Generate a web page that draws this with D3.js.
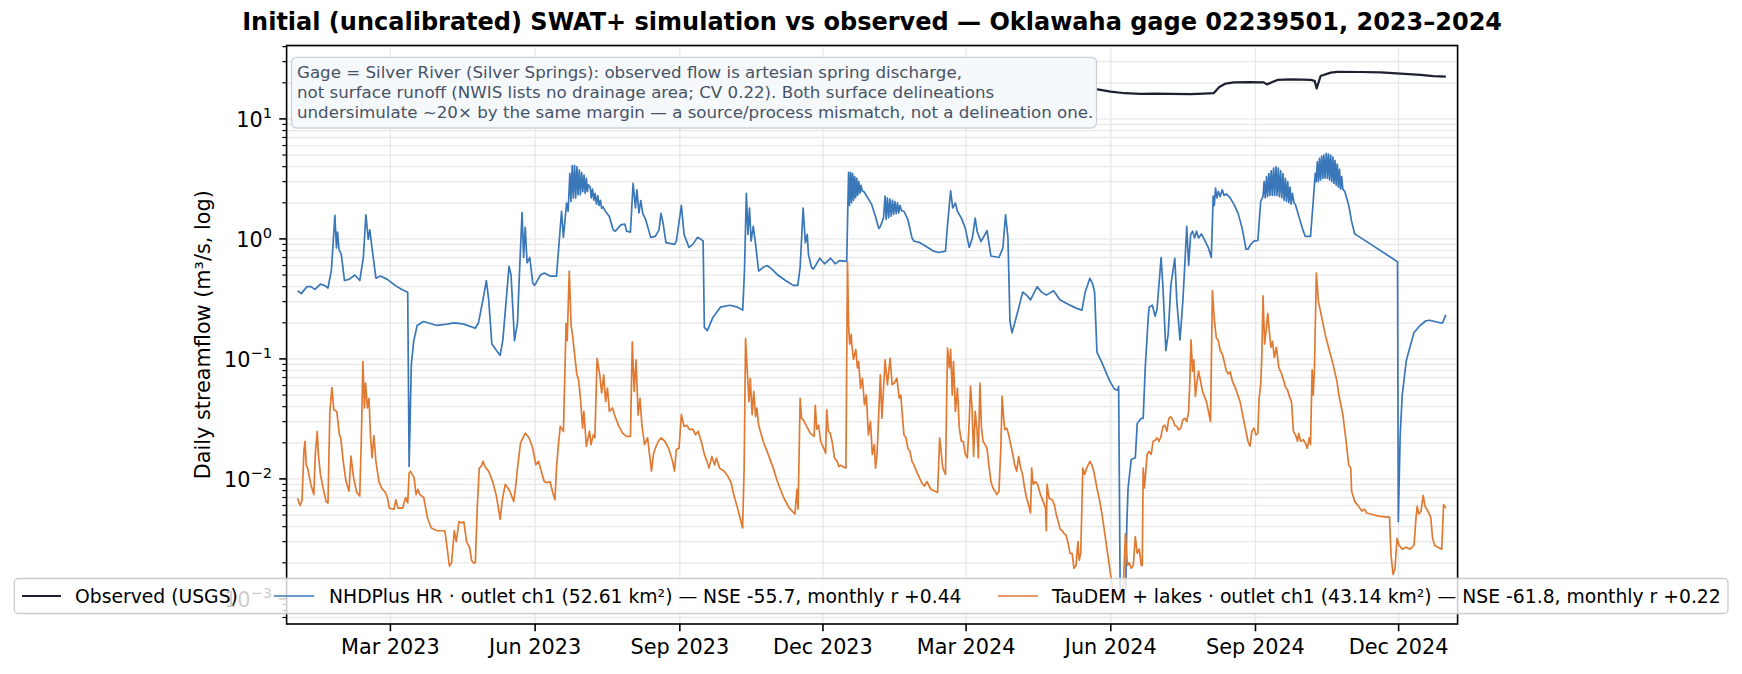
<!DOCTYPE html>
<html lang="en">
<head>
<meta charset="UTF-8">
<title>SWAT+ simulation vs observed</title>
<script src="https://d3js.org/d3.v7.min.js"></script>
<style>
body{margin:0;background:#fff;}
svg{display:block;font-family:"DejaVu Sans",sans-serif;}
.grid line{stroke:#e8e8e8;stroke-width:1.3px;}
.spine{fill:none;stroke:#000;stroke-width:1.6px;}
.tick{stroke:#000;stroke-width:1.6px;}
.minor{stroke:#000;stroke-width:1.2px;}
.ticklabel{font-size:20.8px;fill:#000;}
.title{font-size:24px;font-weight:bold;text-anchor:middle;}
.note{font-size:16.67px;fill:#465265;}
.legend{font-size:18.75px;fill:#000;}
</style>
</head>
<body>
<svg id="figure" width="1742" height="674"></svg>
<script>
// days are counted from 2023-01-01
const START = Date.UTC(2023, 0, 1)

let x_days = [-7, 737.5]
let x_ticks = ["2023-03-01","2023-06-01","2023-09-01","2023-12-01","2024-03-01","2024-06-01","2024-09-01","2024-12-01"]
let y_major = [1e-3, 1e-2, 1e-1, 1, 10]
let y_major_exp = ["−3", "−2", "−1", "0", "1"]
let y_limits = [6.18e-4, 40.9]

let series_names = [
    "Observed (USGS)",
    "NHDPlus HR · outlet ch1 (52.61 km²) — NSE -55.7, monthly r +0.44",
    "TauDEM + lakes · outlet ch1 (43.14 km²) — NSE -61.8, monthly r +0.22"
]
let series_colors = ["#1b2130", "#3a77b8", "#e07a33"]

let title_text = "Initial (uncalibrated) SWAT+ simulation vs observed — Oklawaha gage 02239501, 2023–2024"
let y_label = "Daily streamflow (m³/s, log)"
let note_lines = [
    "Gage = Silver River (Silver Springs): observed flow is artesian spring discharge,",
    "not surface runoff (NWIS lists no drainage area; CV 0.22). Both surface delineations",
    "undersimulate ~20× by the same margin — a source/process mismatch, not a delineation one."
]

// observed, [day, m3/s]
let observed = [[480,18.04],[495,17.84],[505,17.74],[508.6,17.64],[516.9,16.86],[526,16.37],[536,16.17],[545,16.27],
    [555,16.17],[567.7,16.07],[576,16.27],[582.4,16.37],[586,18.43],[590,19.70],[595.3,20.18],[605,20.27],[614.2,20.18],
    [616.3,19.40],[622.9,21.14],[631.3,21.34],[638,21.24],[644,21.14],[646.6,20.75],[647.9,17.94],[650.4,22.79],
    [656.8,24.31],[661.2,24.70],[675.8,24.60],[688.6,24.42],[701.3,23.84],[714,23.26],[722,22.69],[730,22.50]]

// NHDPlus HR outlet, [day, m3/s]
let nhd = [[0,0.37],[2.3,0.35],[6,0.40],[8.5,0.40],[11,0.38],[14.5,0.42],[17,0.41],[19.3,0.39],[21.5,0.55],[23.7,1.57],
    [24.7,0.84],[25.4,1.14],[26.3,0.82],[27.8,0.74],[29.8,0.45],[32.7,0.46],[36.4,0.50],[39.5,0.45],[41.8,0.7],[43.4,1.59],
    [44.9,0.99],[45.9,1.19],[47.3,0.84],[49.8,0.47],[52.7,0.49],[57,0.46],[62,0.41],[66,0.38],[70,0.36],[70.9,0.0127],
    [71.5,0.03],[72.3,0.09],[73.8,0.14],[76,0.19],[80,0.205],[88.7,0.19],[95,0.195],[99.6,0.20],[105.7,0.195],[113,0.18],
    [115,0.20],[118,0.32],[120,0.45],[121.5,0.31],[123.5,0.133],[128.8,0.107],[130.5,0.144],[134.4,0.59],[135.7,0.50],
    [137.9,0.142],[139.8,0.2],[141,0.5],[142.7,1.66],[143.7,0.70],[144.7,1.25],[145.9,0.63],[147.6,0.70],[149.5,0.43],
    [150.7,0.41],[154.4,0.50],[156.8,0.52],[160.5,0.49],[164.6,0.49],[167.8,1.70],[169,1.03],[171,1.99],[172,1.70],
    [173.1,3.52],[173.8,2.05],[174.6,4.08],[175.3,2.19],[176.1,4.08],[176.8,2.19],[177.6,4.0],[178.3,2.33],[179.1,3.76],
    [179.8,2.33],[180.6,3.58],[181.3,2.48],[182.1,3.41],[182.8,2.4],[183.6,3.2],[184.2,2.48],[184.8,2.82],[186,2.7],
    [186.7,2.2],[187.5,2.6],[188.3,2.1],[189.1,2.4],[190,1.95],[190.8,2.3],[191.6,1.9],[192.5,2.1],[193.3,1.8],[194.2,1.85],
    [195.8,1.69],[198.2,1.54],[200.6,1.19],[201.9,1.16],[203.5,1.22],[205.5,1.31],[208,1.33],[209.2,1.16],[211.6,1.14],
    [213.3,2.91],[214.8,1.81],[215.7,2.56],[217,1.65],[218.2,2.09],[219.4,1.63],[221.3,1.45],[224.5,1.03],[227.4,1.05],
    [229.8,1.19],[231,1.63],[232.3,1.37],[234.2,0.93],[239.6,0.90],[240.8,0.96],[244,1.90],[245.7,1.09],[248.8,0.85],
    [251.3,0.90],[254.2,1.03],[256.1,1.0],[257.8,0.96],[258.6,0.183],[260.5,0.172],[263.9,0.22],[268.8,0.27],[274.9,0.28],
    [279.7,0.27],[283,0.255],[284.1,0.54],[285.3,2.40],[286.3,1.09],[287.3,1.81],[288.3,0.96],[289.7,1.27],[291.2,0.90],
    [293.1,0.54],[296,0.58],[298.5,0.60],[301.6,0.56],[305.3,0.50],[310.2,0.45],[315.1,0.41],[318,0.41],[319.5,0.58],
    [321.4,1.81],[322.8,0.93],[324,1.09],[324.8,0.74],[326.7,0.58],[327.9,0.56],[332,0.69],[335,0.62],[338.9,0.69],
    [341.8,0.62],[344.7,0.66],[349.1,0.65],[350.3,3.59],[350.9,1.9],[351.6,3.59],[352.2,2.0],[352.9,3.5],[353.5,2.1],
    [354.2,3.3],[354.8,2.2],[355.5,3.2],[356.1,2.3],[356.8,3.0],[357.5,2.4],[358.2,2.8],[359,2.5],[360,2.48],[362.5,2.2],
    [365,1.93],[367.4,1.54],[369.5,1.22],[370.5,1.27],[372.5,1.49],[373.5,2.27],[374.2,1.45],[375,2.2],[375.8,1.5],
    [376.6,2.15],[377.4,1.55],[378.2,2.1],[379,1.6],[379.8,2.05],[380.6,1.62],[381.4,2.0],[382.2,1.65],[383,1.9],[384,1.72],
    [385.5,1.70],[388,1.45],[390.6,1.02],[391.8,0.96],[395.6,0.93],[399.4,0.87],[404.4,0.79],[407.7,0.77],[411.9,0.79],
    [413.2,1.31],[415.2,2.51],[416.5,1.81],[418.2,1.99],[419.5,1.70],[422,1.49],[424.5,1.23],[427,0.85],[429,1.02],
    [430.8,1.49],[432,1.16],[434.5,0.95],[438.3,1.17],[440.8,0.72],[445.9,0.70],[448.4,0.84],[450.1,1.59],[451.6,1.03],
    [452.9,0.206],[454.2,0.165],[457.2,0.23],[461,0.36],[463.5,0.34],[466,0.31],[470.2,0.40],[473,0.36],[476,0.34],
    [480.6,0.37],[484.8,0.31],[489.9,0.286],[494.9,0.265],[498.7,0.255],[500.7,0.36],[503.7,0.47],[505.5,0.42],[506.7,0.36],
    [508.2,0.114],[511.2,0.094],[516.2,0.066],[519.3,0.056],[521.5,0.055],[522,0.059],[523,0.00102],[526.5,0.0012],
    [527.2,0.0042],[528,0.0084],[530,0.0145],[532.6,0.015],[533.8,0.029],[536.4,0.032],[537.6,0.032],[538.9,0.084],
    [540.9,0.23],[541.4,0.27],[543.4,0.28],[545.2,0.227],[546.4,0.26],[549,0.70],[550.2,0.39],[552,0.117],[553.5,0.161],
    [555.2,0.41],[557.7,0.69],[559,0.30],[561,0.144],[562.8,0.30],[564,0.59],[565.3,1.27],[566.5,0.60],[567.8,1.09],
    [569,1.16],[570.3,1.02],[571.5,1.16],[572.8,1.02],[574.6,1.10],[576.6,0.98],[579.1,0.84],[580.9,0.70],[582.1,2.27],
    [582.8,1.9],[583.6,2.65],[584.5,2.2],[585.4,2.49],[586.5,2.25],[587.9,2.57],[589,2.3],[590.4,2.37],[592.9,2.20],
    [595.4,1.93],[597.9,1.64],[600.5,1.23],[603,0.82],[604.2,0.82],[606,0.9],[608,0.96],[610.5,0.97],[612.3,2.05],
    [613.8,2.27],[614.5,3.0],[615.2,2.2],[616,3.3],[616.7,2.25],[617.5,3.5],[618.2,2.3],[619,3.7],[619.7,2.3],[620.5,3.9],
    [621.2,2.3],[622,4.0],[622.7,2.3],[623.5,3.9],[624.2,2.25],[625,3.7],[625.7,2.2],[626.5,3.5],[627.2,2.1],[628,3.2],
    [628.7,2.05],[629.5,3.0],[630.2,2.0],[631,2.7],[631.7,1.95],[632.5,2.4],[633.5,2.0],[634.4,1.93],[636.9,1.49],
    [639.4,1.16],[640.7,1.05],[644,1.05],[645.7,2.05],[647,3.52],[647.6,3.0],[648.3,4.4],[649,3.0],[649.7,4.7],[650.4,3.1],
    [651.1,4.9],[651.8,3.2],[652.5,5.0],[653.2,3.2],[654,5.16],[654.7,3.2],[655.4,5.1],[656.1,3.1],[656.8,5.0],[657.5,3.0],
    [658.2,4.8],[658.9,2.9],[659.6,4.5],[660.3,2.8],[661,4.2],[661.7,2.7],[662.4,3.8],[663.1,2.6],[663.8,3.3],[664.5,2.6],
    [665.8,2.48],[668.3,1.90],[670.1,1.40],[672.1,1.10],[674.6,1.05],[699.3,0.645],[699.8,0.0044],[701,0.0233],[702.3,0.05],
    [704.8,0.095],[706,0.11],[709.8,0.166],[713.6,0.19],[717.4,0.208],[719.9,0.21],[726.2,0.20],[728,0.20],[730,0.233]]

// TauDEM + lakes outlet, [day, m3/s]
let taudem = [[0,0.0069],[1.6,0.0060],[2.8,0.0066],[4,0.017],[4.7,0.0206],[5.5,0.0131],[6.4,0.0123],[8.4,0.0090],
    [10.3,0.0074],[11.3,0.0164],[12.5,0.0249],[13.2,0.016],[14.5,0.0109],[16.2,0.0084],[18.1,0.0065],[19.3,0.0063],
    [20.5,0.0365],[21.8,0.0578],[23,0.0377],[24.9,0.0365],[26.6,0.0233],[27.4,0.022],[29,0.014],[30.8,0.0095],[32.7,0.0079],
    [33.9,0.0155],[35.6,0.0102],[37.6,0.0077],[39.5,0.0072],[40.5,0.021],[41.5,0.095],[42.5,0.039],[43.2,0.063],[44.4,0.039],
    [45.4,0.047],[46.3,0.023],[47.3,0.015],[48.5,0.023],[49.8,0.014],[51.7,0.0095],[53.4,0.0084],[55.8,0.0077],[57.1,0.0070],
    [58.3,0.0057],[61.4,0.0056],[62.4,0.0067],[63.9,0.0057],[66.8,0.0057],[68.7,0.0070],[70,0.0063],[70.9,0.0112],
    [71.7,0.0116],[74.1,0.0102],[75.3,0.0074],[76.5,0.0082],[77.7,0.0074],[80.2,0.0070],[82.6,0.0047],[85,0.0039],
    [88.7,0.0037],[93.6,0.0037],[94.8,0.00284],[96.5,0.00188],[97.9,0.0020],[99.6,0.0037],[100.9,0.0030],[102.6,0.0044],
    [104.5,0.0043],[105.7,0.0044],[107.4,0.0030],[109.4,0.00267],[110.6,0.0021],[111.8,0.0020],[113,0.0020],[114.2,0.0057],
    [115.5,0.0123],[116.7,0.0127],[117.9,0.014],[119.1,0.0127],[121.5,0.0116],[124,0.0095],[126.4,0.0072],[128.8,0.0046],
    [130,0.0065],[132,0.0090],[133.7,0.0084],[134.9,0.0079],[137.4,0.0065],[138.8,0.0090],[139.8,0.0123],[141.7,0.0199],
    [144.7,0.0241],[147.1,0.022],[149.5,0.018],[151.5,0.0131],[153.2,0.014],[154.9,0.0116],[156.8,0.0095],[158.8,0.0093],
    [160.5,0.0095],[162.2,0.0077],[163.6,0.0067],[164.6,0.0123],[165.8,0.0193],[167,0.0274],[169,0.0249],[170.7,0.198],
    [171.4,0.142],[172.7,0.54],[173.9,0.19],[175,0.15],[176.3,0.103],[177.5,0.075],[178.7,0.066],[180,0.044],[181.2,0.0265],
    [182,0.0365],[183.6,0.0187],[185.6,0.025],[186.5,0.0193],[188,0.0233],[189,0.022],[190.4,0.101],[192.1,0.0736],
    [193.3,0.052],[194.6,0.0736],[195.8,0.044],[197,0.057],[198.2,0.0365],[200.2,0.039],[201.9,0.033],[204.3,0.0274],
    [206.7,0.024],[209.2,0.0226],[211.6,0.0226],[212.8,0.139],[214,0.0536],[215.2,0.098],[216.5,0.034],[217.7,0.047],
    [218.9,0.028],[220.6,0.0193],[222.5,0.022],[225,0.0116],[226.2,0.016],[227.4,0.018],[229.4,0.0206],[231.1,0.022],
    [233.5,0.0206],[235.9,0.018],[238.4,0.014],[239.6,0.0116],[240.8,0.0176],[242.5,0.018],[244,0.0343],[245.7,0.0274],
    [247.4,0.028],[249.3,0.0257],[251.3,0.026],[253,0.0233],[254.7,0.025],[256.6,0.0206],[258.6,0.016],[260.3,0.014],
    [261.5,0.0123],[263.4,0.0154],[265.1,0.0131],[266.3,0.0149],[268.3,0.0123],[271.2,0.0116],[273.6,0.0105],[275.6,0.0093],
    [277.3,0.0074],[279.7,0.0057],[282.9,0.0039],[283.9,0.0123],[284.8,0.148],[285.8,0.0836],[287,0.044],[287.8,0.069],
    [289,0.0343],[290,0.0536],[291.2,0.033],[292,0.039],[293.1,0.028],[296,0.0206],[299.2,0.016],[302.4,0.0123],
    [305.3,0.0093],[309,0.0070],[312.6,0.0057],[316.2,0.0051],[317.5,0.0082],[318.2,0.0056],[319.5,0.047],[320.4,0.032],
    [321.6,0.031],[323.6,0.0274],[326,0.024],[328.4,0.0226],[329.1,0.041],[330.1,0.026],[331.3,0.028],[332.5,0.0206],
    [334.5,0.018],[335.7,0.0164],[336.4,0.0377],[337.4,0.025],[338.6,0.024],[339.8,0.0206],[341.3,0.015],[343,0.014],
    [344.2,0.0127],[345.4,0.013],[346.6,0.0127],[348.6,0.0123],[349.6,0.645],[350.3,0.19],[351,0.133],[352,0.16],
    [352.4,0.13],[353.4,0.099],[354.9,0.12],[355.9,0.084],[356.7,0.095],[357.9,0.057],[359.1,0.069],[360.4,0.0415],
    [361.6,0.05],[362.9,0.0233],[364.2,0.030],[365.4,0.016],[366.7,0.0193],[367.4,0.0123],[368.4,0.016],[370.5,0.0736],
    [371.5,0.032],[373.5,0.098],[375,0.061],[376.7,0.101],[378,0.061],[379.5,0.063],[381,0.069],[382.5,0.047],[383.5,0.050],
    [384.3,0.0365],[385.5,0.0233],[386.8,0.022],[388,0.018],[389.3,0.017],[390.6,0.014],[391.8,0.0131],[394.3,0.0109],
    [396.8,0.0093],[398.6,0.0087],[400.1,0.0095],[402.6,0.0082],[406.9,0.0077],[408.2,0.022],[410.2,0.0123],[411.9,0.0109],
    [413.2,0.123],[414.4,0.084],[415.2,0.12],[416.2,0.050],[417,0.095],[418.2,0.0365],[419.5,0.057],[420.7,0.0265],
    [422,0.0206],[423.2,0.0206],[424.5,0.016],[425.8,0.015],[427,0.030],[427.8,0.059],[428.8,0.039],[429.8,0.0154],
    [430.8,0.0365],[432,0.025],[432.8,0.015],[433.8,0.063],[434.8,0.0265],[435.8,0.0206],[437.1,0.0193],[438.3,0.018],
    [439.6,0.0127],[440.8,0.0095],[442.1,0.0084],[443.4,0.0079],[444.6,0.0074],[445.9,0.0079],[447.1,0.018],[447.9,0.0487],
    [448.9,0.032],[449.6,0.0257],[450.9,0.0265],[452.1,0.0233],[453.4,0.0193],[454.7,0.016],[455.9,0.0131],[457.2,0.0116],
    [458.4,0.0154],[459.7,0.0123],[460.9,0.0109],[462.2,0.0084],[463.5,0.0069],[464.7,0.0061],[466,0.0052],[466.7,0.0123],
    [467.7,0.009],[469,0.0095],[470.5,0.009],[472.3,0.0074],[474,0.0065],[475.5,0.0057],[476,0.0037],[476.5,0.009],
    [477.8,0.0069],[479.8,0.0067],[481.1,0.0061],[482.3,0.0051],[483.6,0.0044],[484.8,0.0038],[486.1,0.0037],[487.3,0.0035],
    [488.6,0.0034],[489.9,0.0029],[491.1,0.0024],[492.4,0.0024],[493.6,0.0018],[494.9,0.0019],[496.1,0.0030],[496.9,0.0021],
    [497.9,0.0024],[499.2,0.0123],[500.4,0.0109],[501.7,0.0123],[503.7,0.014],[505,0.0131],[506.2,0.0116],[508.2,0.0084],
    [510,0.0065],[511.7,0.0048],[513.2,0.0035],[515,0.0024],[516.3,0.0018],[517.5,0.0014],[519,0.0011],[521,0.00105],
    [523,0.0011],[525,0.0013],[526.3,0.0035],[527.6,0.0019],[528.8,0.0020],[530,0.0018],[531.3,0.0019],[532.6,0.0033],
    [533.8,0.0024],[535.1,0.0026],[536.4,0.0019],[537,0.0019],[537.6,0.0123],[538.4,0.0084],[539.4,0.0123],[540.1,0.016],
    [541.4,0.017],[542.7,0.016],[543.9,0.0206],[545.2,0.021],[546.4,0.022],[547.7,0.0206],[548.9,0.0226],[550.2,0.0274],
    [551.4,0.028],[552.7,0.025],[553.9,0.032],[555.2,0.033],[556.5,0.031],[557.7,0.028],[559,0.0274],[560.2,0.0257],
    [561.5,0.0265],[562.8,0.031],[564,0.032],[565.3,0.030],[566.5,0.0365],[567.3,0.067],[568,0.144],[569,0.079],[569.8,0.098],
    [570.8,0.0487],[571.6,0.061],[572.8,0.079],[574.1,0.065],[575.3,0.0536],[576.6,0.0487],[577.8,0.044],[579.1,0.0365],
    [580.4,0.030],[581.6,0.37],[582.9,0.208],[584.1,0.15],[585.4,0.142],[586.6,0.117],[587.9,0.11],[589.2,0.094],[590.4,0.08],
    [591.7,0.075],[592.9,0.078],[594.2,0.066],[596.7,0.055],[599.2,0.044],[601.7,0.030],[604.2,0.0206],[605.5,0.0187],
    [606.7,0.025],[608,0.0265],[609.3,0.0233],[610.5,0.024],[611.3,0.047],[612.3,0.061],[613,0.101],[613.8,0.335],
    [614.8,0.133],[615.5,0.16],[616.8,0.24],[617.6,0.18],[618.8,0.125],[619.8,0.14],[621,0.103],[622.3,0.125],[623.8,0.085],
    [625.6,0.075],[626.9,0.066],[628.1,0.058],[629.4,0.055],[630.7,0.048],[631.9,0.044],[633.1,0.025],[634.4,0.0233],
    [635.7,0.0206],[636.4,0.024],[637.7,0.0206],[639.4,0.0212],[640.7,0.0199],[641.9,0.018],[643.2,0.022],[644,0.0193],
    [645,0.081],[645.7,0.050],[646.5,0.084],[647.7,0.52],[649,0.30],[650.7,0.236],[653.3,0.16],[655.8,0.12],[658.3,0.09],
    [660.8,0.065],[662,0.050],[664.6,0.034],[666.6,0.0206],[668.3,0.013],[669.6,0.0123],[670.1,0.0079],[672.1,0.0065],
    [674.6,0.0059],[676.6,0.0054],[678.4,0.0056],[679.6,0.0052],[682.1,0.0051],[687.2,0.0049],[692.2,0.0048],[694.2,0.0048],
    [695.2,0.0023],[696.5,0.0016],[697.7,0.0018],[699,0.0032],[700.3,0.0028],[702.3,0.0026],[704.8,0.0027],[707.3,0.0026],
    [709.8,0.0028],[711.1,0.0048],[711.8,0.0059],[712.8,0.0051],[714.3,0.0054],[715.6,0.0073],[716.8,0.0059],[718.6,0.0054],
    [720.4,0.0048],[721.6,0.0032],[722.9,0.0028],[724.9,0.0027],[727.4,0.0026],[728.6,0.0061],[729.4,0.0059],[730,0.0057]]

let all_series = [observed, nhd, taudem]
let series_widths = [2.2, 1.7, 1.7]

function dayToDate(d){
    return new Date(START + d * 86400000)
}

let svg = d3.select("#figure")
let plot = {left: 286.6, right: 1457.6, top: 45.5, bottom: 624}

let xScale = d3.scaleUtc()
    .domain(x_days.map(dayToDate))
    .range([plot.left, plot.right])
let yScale = d3.scaleLog()
    .domain(y_limits)
    .range([plot.bottom, plot.top])

let tickDates = x_ticks.map(function (s){ return new Date(s + "T00:00:00Z") })
let fmt = d3.utcFormat("%b %Y")

// minor y ticks 2..9 per decade, only inside the limits
let y_minor = []
for (let e = -4; e <= 1; e++){
    for (let m = 2; m <= 9; m++){
        let v = m * Math.pow(10, e)
        if (v > y_limits[0] && v < y_limits[1]) y_minor.push(v)
    }
}

// grid
let grid = svg.append("g").attr("class", "grid")
grid.selectAll(".gy").data(y_major.concat(y_minor)).enter().append("line")
    .attr("x1", plot.left).attr("x2", plot.right)
    .attr("y1", function (d){ return yScale(d) }).attr("y2", function (d){ return yScale(d) })
grid.selectAll(".gx").data(tickDates).enter().append("line")
    .attr("x1", function (d){ return xScale(d) }).attr("x2", function (d){ return xScale(d) })
    .attr("y1", plot.top).attr("y2", plot.bottom)

// lines
svg.append("clipPath").attr("id", "clip").append("rect")
    .attr("x", plot.left).attr("y", plot.top)
    .attr("width", plot.right - plot.left).attr("height", plot.bottom - plot.top)

let line = d3.line()
    .x(function (d){ return xScale(dayToDate(d[0])) })
    .y(function (d){ return yScale(d[1]) })

let lines = svg.append("g").attr("clip-path", "url(#clip)")
all_series.forEach(function (s, i){
    lines.append("path")
        .datum(s)
        .attr("fill", "none")
        .attr("stroke", series_colors[i])
        .attr("stroke-width", series_widths[i])
        .attr("stroke-linejoin", "round")
        .attr("d", line)
})

// spines
svg.append("rect").attr("class", "spine")
    .attr("x", plot.left).attr("y", plot.top)
    .attr("width", plot.right - plot.left).attr("height", plot.bottom - plot.top)

// x ticks
let xt = svg.append("g")
xt.selectAll("line").data(tickDates).enter().append("line").attr("class", "tick")
    .attr("x1", function (d){ return xScale(d) }).attr("x2", function (d){ return xScale(d) })
    .attr("y1", plot.bottom).attr("y2", plot.bottom + 7.3)
xt.selectAll("text").data(tickDates).enter().append("text").attr("class", "ticklabel")
    .attr("x", function (d){ return xScale(d) })
    .attr("y", 654)
    .attr("text-anchor", "middle")
    .text(function (d){ return fmt(d) })

// y ticks
let yt = svg.append("g")
yt.selectAll(".maj").data(y_major).enter().append("line").attr("class", "tick")
    .attr("x1", plot.left - 7.3).attr("x2", plot.left)
    .attr("y1", function (d){ return yScale(d) }).attr("y2", function (d){ return yScale(d) })
yt.selectAll(".min").data(y_minor).enter().append("line").attr("class", "minor")
    .attr("x1", plot.left - 4.2).attr("x2", plot.left)
    .attr("y1", function (d){ return yScale(d) }).attr("y2", function (d){ return yScale(d) })
y_major.forEach(function (v, i){
    let t = yt.append("text").attr("class", "ticklabel")
        .attr("x", plot.left - 14.6)
        .attr("y", yScale(v) + 8)
        .attr("text-anchor", "end")
    t.append("tspan").text("10")
    t.append("tspan").attr("font-size", "14.6px").attr("dy", -9).text(y_major_exp[i])
})

// labels
svg.append("text")
    .attr("transform", `translate(${210},${(plot.top + plot.bottom) / 2}) rotate(-90)`)
    .attr("text-anchor", "middle")
    .attr("font-size", "20.8px")
    .text(y_label)

svg.append("text").attr("class", "title")
    .attr("x", (plot.left + plot.right) / 2).attr("y", 30)
    .text(title_text)

// note box
svg.append("rect")
    .attr("x", 291.5).attr("y", 57.3).attr("width", 805).attr("height", 70.7)
    .attr("rx", 5)
    .attr("fill", "#f6f9fc").attr("stroke", "#c8d2de").attr("stroke-width", 1.3)
note_lines.forEach(function (s, i){
    svg.append("text").attr("class", "note")
        .attr("x", 297).attr("y", 77.5 + i * 20)
        .text(s)
})

// legend
let lg = svg.append("g")
lg.append("rect")
    .attr("x", 14.4).attr("y", 578.5).attr("width", 1713.6).attr("height", 35)
    .attr("rx", 4)
    .attr("fill", "#fff").attr("fill-opacity", 0.8)
    .attr("stroke", "#cccccc").attr("stroke-width", 1.3)
let legend_x = [[22, 61, 75], [274, 314, 329], [998, 1038, 1052]]
series_names.forEach(function (d, i){
    lg.append("line")
        .attr("x1", legend_x[i][0]).attr("x2", legend_x[i][1])
        .attr("y1", 596).attr("y2", 596)
        .attr("stroke", series_colors[i]).attr("stroke-width", series_widths[i])
    lg.append("text").attr("class", "legend")
        .attr("x", legend_x[i][2]).attr("y", 602.7)
        .text(d)
})
</script>
</body>
</html>
